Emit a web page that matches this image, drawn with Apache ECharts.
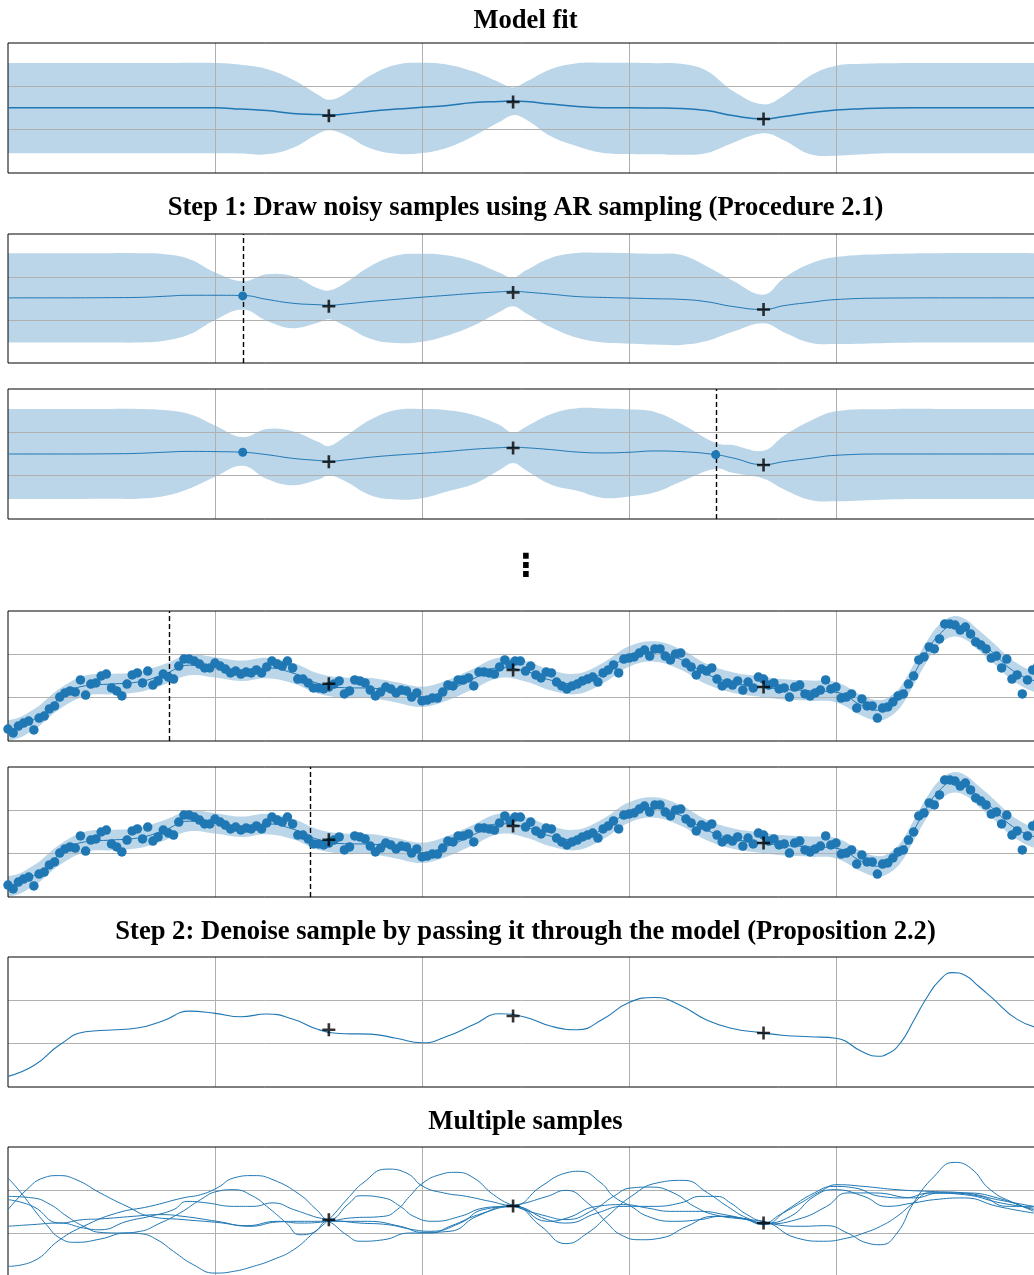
<!DOCTYPE html>
<html><head><meta charset="utf-8">
<script src="https://cdn.jsdelivr.net/npm/echarts/dist/echarts.min.js"></script>
<style>html,body{margin:0;padding:0;background:#fff}#c{width:1034px;height:1275px}</style>
</head><body><div id="c"></div>
<script>
// ---------- data ----------
const TITLES = ['Model fit', 'Step 1: Draw noisy samples using AR sampling (Procedure 2.1)', 'Step 2: Denoise sample by passing it through the model (Proposition 2.2)', 'Multiple samples'];
const ELLIPSIS = '\u22EE';
const OBS = [[3.10, -0.36], [4.88, 0.28], [7.30, -0.51]];

const P1_X = [0,0.5,1,1.5,2,2.25,2.5,2.75,3,3.1,3.25,3.5,3.75,4,4.25,4.5,4.75,4.88,5,5.25,5.5,5.75,6,6.25,6.5,6.75,7,7.3,7.5,7.75,8,8.25,8.5,9,10];
const P1_UP = [2.08,2.08,2.08,2.08,2.08,2.00,1.80,1.31,0.60,0.38,0.64,1.50,2.00,2.09,2.00,1.68,1.18,0.95,1.20,1.80,2.07,2.09,2.09,2.07,2.04,1.72,0.80,0.17,0.59,1.49,1.95,2.04,2.07,2.08,2.08];
const P1_LO = [-2.09,-2.09,-2.09,-2.09,-2.09,-2.10,-2.14,-1.85,-1.18,-1.03,-1.22,-1.86,-2.11,-2.08,-1.82,-1.29,-0.64,-0.33,-0.52,-1.32,-1.77,-2.08,-2.12,-2.14,-2.16,-2.08,-1.61,-1.17,-1.50,-2.14,-2.20,-2.14,-2.09,-2.09,-2.09];
const P1_MEAN = [0.01,0.01,0.01,0.01,0.01,-0.05,-0.12,-0.25,-0.30,-0.32,-0.28,-0.15,-0.05,0.03,0.12,0.25,0.30,0.32,0.30,0.18,0.07,0.01,0.01,0.00,-0.02,-0.12,-0.35,-0.51,-0.39,-0.22,-0.09,-0.03,0.00,0.01,0.01];

const P2_X = [0,0.5,1,1.25,1.5,1.75,2,2.268,2.5,2.75,3,3.1,3.25,3.5,3.75,4,4.25,4.5,4.75,4.88,5,5.25,5.5,5.75,6,6.25,6.5,6.75,7,7.3,7.5,7.75,8,8.5,9,10];
const P2_UP = [2.11,2.11,2.11,2.11,2.07,1.84,1.22,0.80,1.13,1.04,0.46,0.37,0.70,1.50,2.00,2.08,2.00,1.70,1.20,0.97,1.30,1.90,2.12,2.13,2.11,2.08,2.03,1.50,0.84,0.18,0.97,1.62,1.93,2.07,2.11,2.11];
const P2_LO = [-2.05,-2.05,-2.05,-2.05,-1.98,-1.68,-1.00,-0.51,-1.03,-1.38,-1.12,-0.97,-1.26,-1.87,-2.07,-2.01,-1.72,-1.26,-0.62,-0.36,-0.67,-1.35,-1.83,-2.05,-2.10,-2.14,-2.16,-1.98,-1.55,-1.15,-1.58,-2.06,-2.12,-2.07,-2.05,-2.05];
const P2_MEAN = [0.03,0.03,0.04,0.05,0.10,0.15,0.15,0.14,-0.04,-0.22,-0.29,-0.31,-0.26,-0.14,-0.04,0.06,0.15,0.24,0.31,0.34,0.30,0.20,0.09,0.05,0.02,-0.01,-0.04,-0.15,-0.37,-0.51,-0.33,-0.18,-0.05,0.02,0.03,0.03];
const P2_PTS = [[2.268, 0.12]];
const P2_CUT = 2.268;

const P3_X = [0,0.5,1,1.25,1.5,1.75,2,2.268,2.5,2.75,3,3.1,3.25,3.5,3.75,4,4.25,4.5,4.75,4.88,5,5.25,5.5,5.75,6,6.25,6.5,6.838,7,7.3,7.5,7.75,8,8.5,9,10];
const P3_UP = [2.08,2.08,2.08,2.08,2.03,1.85,1.32,0.78,1.15,1.05,0.55,0.36,0.78,1.58,2.03,2.08,2.02,1.80,1.34,0.97,1.25,1.85,2.11,2.10,2.06,1.94,1.41,0.51,0.41,0.15,0.85,1.52,1.97,2.07,2.08,2.08];
const P3_LO = [-2.08,-2.08,-2.07,-2.06,-1.95,-1.60,-1.05,-0.54,-1.15,-1.44,-1.18,-0.98,-1.24,-1.90,-2.10,-2.04,-1.72,-1.39,-0.74,-0.42,-0.74,-1.42,-1.70,-2.03,-1.96,-1.77,-1.28,-0.68,-0.87,-1.14,-1.64,-2.12,-2.18,-2.10,-2.08,-2.08];
const P3_MEAN = [0.00,0.00,0.01,0.03,0.08,0.12,0.11,0.08,-0.03,-0.20,-0.30,-0.34,-0.28,-0.15,-0.05,0.03,0.12,0.22,0.29,0.31,0.29,0.20,0.09,0.05,0.08,0.14,0.11,-0.03,-0.18,-0.49,-0.35,-0.20,-0.06,0.00,0.00,0.00];
const P3_PTS = [[2.268, 0.08], [6.838, -0.03]];
const P3_CUT = 6.838;

// noisy AR sample, x = i * NOISY_DX
const NOISY_DX = 0.05;
const NOISY_Y = [
 -2.45,-2.63,-2.31,-2.17,-2.08,-2.49,-1.94,-1.85,-1.52,-1.38,
 -0.97,-0.78,-0.69,-0.74,-0.18,-0.88,-0.37,-0.32,0.00,0.09,
 -0.55,-0.69,-0.92,-0.37,0.05,0.14,-0.32,0.23,-0.42,-0.23,
 0.09,-0.05,-0.14,0.46,0.78,0.78,0.69,0.55,0.37,0.37,
 0.60,0.46,0.32,0.14,0.23,0.09,0.18,0.14,0.28,0.14,
 0.42,0.69,0.55,0.46,0.69,0.37,-0.14,-0.14,-0.32,-0.55,
 -0.55,-0.60,-0.51,-0.37,-0.23,-0.83,-0.69,-0.18,-0.23,-0.32,
 -0.65,-0.92,-0.74,-0.51,-0.60,-0.78,-0.65,-0.69,-0.97,-0.78,
 -1.15,-1.11,-1.02,-1.02,-0.74,-0.42,-0.46,-0.18,-0.18,-0.09,
 -0.46,0.18,0.18,0.14,0.09,0.42,0.74,0.51,0.69,0.69,
 0.23,0.46,0.05,-0.09,0.18,0.14,-0.28,-0.46,-0.60,-0.46,
 -0.37,-0.23,-0.14,-0.05,-0.28,0.14,0.28,0.51,0.14,0.78,
 0.83,0.88,1.06,1.20,0.92,1.25,1.25,0.92,0.74,1.02,
 1.06,0.60,0.42,0.05,0.32,0.23,0.37,-0.14,-0.46,-0.32,
 -0.42,-0.23,-0.65,-0.28,-0.55,-0.05,-0.14,-0.42,-0.32,-0.60,
 -0.55,-0.97,-0.51,-0.42,-0.83,-0.92,-0.78,-0.65,-0.18,-0.60,
 -0.51,-1.02,-0.97,-0.83,-1.48,-1.06,-1.38,-1.38,-1.94,-1.48,
 -1.43,-1.20,-0.92,-0.83,-0.37,0.00,0.74,0.88,1.34,1.25,
 1.71,2.40,2.40,2.35,2.12,2.26,1.94,1.57,1.43,1.25,
 0.83,0.92,0.37,0.78,-0.14,0.05,-0.83,-0.18,0.28,0.46];
const CUT_A = 1.565;
const CUT_B = 2.918;
const NOISE_HALF = 0.47;

// denoised sample
const DEN_X = [0,0.25,0.5,0.75,1,1.25,1.5,1.75,2,2.25,2.5,2.75,3,3.25,3.5,3.75,4,4.25,4.5,4.75,5,5.25,5.5,5.75,6,6.25,6.5,6.75,7,7.25,7.5,7.75,8,8.25,8.4,8.5,8.625,8.75,8.875,9,9.125,9.25,9.375,9.5,9.75,10];
const DEN_Y = [-2.51,-2.01,-1.05,-0.45,-0.37,-0.28,0.06,0.50,0.40,0.24,0.37,0.14,-0.35,-0.54,-0.56,-0.75,-0.96,-0.65,-0.12,0.38,0.22,-0.20,-0.36,0.14,0.90,1.13,0.76,0.09,-0.30,-0.48,-0.62,-0.68,-0.75,-1.36,-1.58,-1.47,-0.95,0.06,1.11,1.92,2.28,2.15,1.66,1.15,0.12,-0.32];

// multiple samples
const SAMPLE_1 = [[0,1.57],[0.12,0.92],[0.24,0.18],[0.37,-0.58],[0.50,-1.20],[0.66,-1.40],[0.89,-1.25],[1.15,-0.97],[1.28,-1.00],[1.44,-1.28],[1.60,-1.82],[1.79,-2.43],[2.00,-2.82],[2.18,-2.74],[2.37,-2.51],[2.56,-2.20],[2.76,-1.74],[2.95,-0.97],[3.10,-0.35],
 [3.30,0.72],[3.43,1.34],[3.66,1.98],[3.85,1.80],[4.01,1.18],[4.21,0.88],[4.43,0.72],[4.66,0.49],[4.88,0.30],
 [5.15,1.18],[5.39,1.80],[5.52,1.88],[5.73,1.34],[5.85,0.72],[6.02,0.26],[6.18,-0.20],[6.43,-0.43],[6.69,-0.35],[6.89,-0.20],[7.14,-0.32],[7.30,-0.51],
 [7.46,-0.12],[7.66,0.42],[7.85,0.95],[8.01,1.26],[8.27,1.18],[8.59,1.03],[8.91,0.95],[9.24,0.88],[9.56,0.57],[9.91,0.26]];
const SAMPLE_2 = [[0,-2.51],[0.24,-2.28],[0.50,-1.28],[0.73,-0.66],[1.05,-0.05],[1.37,0.26],[1.69,0.65],[1.86,0.80],[2.02,1.11],[2.18,1.57],[2.37,1.68],[2.56,1.49],[2.82,0.80],[2.98,0.11],[3.10,-0.35],
 [3.30,0.42],[3.40,0.75],[3.63,0.65],[3.79,0.26],[3.92,-0.20],[4.11,-0.43],[4.37,-0.20],[4.59,0.18],[4.88,0.30],
 [5.21,0.72],[5.39,1.00],[5.60,0.42],[5.79,-0.51],[5.92,-1.05],[6.11,-1.28],[6.31,-1.20],[6.56,-0.66],[6.82,-0.20],[7.08,-0.28],[7.30,-0.58],
 [7.53,0.11],[7.79,0.88],[7.98,1.18],[8.18,1.11],[8.43,0.72],[8.66,0.65],[8.91,0.88],[9.24,0.80],[9.59,0.42],[9.91,0.18]];
const SAMPLE_3 = [[0,0.11],[0.18,1.03],[0.34,1.57],[0.49,1.68],[0.66,1.49],[0.89,0.88],[1.15,0.26],[1.37,-0.20],[1.69,-0.35],[2.02,-0.48],[2.31,-0.63],[2.60,-0.43],[2.82,-0.51],[3.10,-0.43],
 [3.30,-0.28],[3.63,-0.20],[3.76,0.11],[3.88,0.72],[4.01,1.34],[4.17,1.72],[4.33,1.83],[4.50,1.57],[4.69,0.80],[4.88,0.30],
 [5.21,-0.20],[5.39,-0.35],[5.66,0.11],[5.85,0.72],[6.02,1.11],[6.21,1.15],[6.43,0.88],[6.63,0.26],[6.82,-0.12],[7.14,-0.35],[7.30,-0.43],
 [7.62,-1.20],[7.88,-1.35],[8.11,-1.20],[8.27,-0.97],[8.43,-0.66],[8.59,-0.20],[8.75,0.42],[8.91,0.88],[9.24,0.88],[9.56,0.65],[9.91,0.03]];
const SAMPLE_4 = [[0,0.72],[0.24,0.65],[0.41,0.34],[0.57,-0.20],[0.73,-0.66],[0.89,-0.94],[1.08,-0.97],[1.28,-0.89],[1.44,-0.58],[1.66,-0.05],[1.86,0.57],[2.02,0.95],[2.18,1.03],[2.37,0.72],[2.50,0.26],[2.69,-0.51],[2.82,-1.05],[2.95,-0.95],[3.10,-0.40],
 [3.40,-0.51],[3.66,-0.58],[3.92,-0.82],[4.08,-0.89],[4.37,-0.51],[4.59,0.11],[4.88,0.25],
 [5.21,-0.35],[5.40,-0.51],[5.69,-0.05],[5.95,0.26],[6.24,0.26],[6.50,0.42],[6.69,0.72],[6.85,0.72],[6.98,0.42],[7.14,-0.12],[7.30,-0.45],
 [7.66,-0.66],[7.91,-0.63],[8.11,-0.97],[8.30,-1.43],[8.43,-1.51],[8.59,-0.97],[8.75,0.42],[8.95,1.65],[9.14,2.29],[9.30,2.03],[9.49,1.03],[9.72,0.42],[9.91,0.11]];
const SAMPLE_5 = [[0,-0.66],[0.24,-0.58],[0.50,-0.51],[0.73,-0.74],[0.89,-0.82],[1.15,-0.43],[1.37,-0.20],[1.60,0.11],[1.73,0.49],[1.92,0.42],[2.18,0.26],[2.37,0.26],[2.56,0.42],[2.76,0.11],[2.95,-0.20],[3.10,-0.43],
 [3.27,-1.05],[3.40,-1.35],[3.63,-1.28],[3.88,-0.97],[4.08,-0.97],[4.27,-0.66],[4.59,-0.05],[4.88,0.25],
 [5.15,-0.66],[5.39,-1.46],[5.60,-0.97],[5.79,-0.20],[6.02,0.72],[6.27,1.34],[6.53,1.46],[6.76,0.88],[6.95,0.26],[7.14,-0.28],[7.30,-0.51],
 [7.56,-0.20],[7.79,0.72],[7.98,1.03],[8.27,0.72],[8.49,0.26],[8.75,0.42],[8.95,0.57],[9.24,0.65],[9.56,0.26],[9.91,-0.05]];
const SAMPLE_6 = [[0,0.57],[0.24,0.26],[0.50,-0.51],[0.73,-0.35],[0.89,-0.32],[1.21,-0.20],[1.47,-0.12],[1.69,-0.20],[2.02,-0.43],[2.34,-0.66],[2.60,-0.46],[2.82,-0.43],[3.10,-0.43],
 [3.47,-0.43],[3.79,-0.66],[4.01,-0.94],[4.27,-0.89],[4.53,-0.20],[4.88,0.30],
 [5.21,-0.43],[5.40,-0.28],[5.69,0.26],[5.95,0.34],[6.18,0.18],[6.40,0.03],[6.69,0.03],[6.92,-0.12],[7.14,-0.35],[7.30,-0.55],
 [7.62,-0.35],[7.91,0.26],[8.11,0.88],[8.37,0.88],[8.75,0.65],[9.01,0.88],[9.40,0.72],[9.65,0.26],[9.91,0.26]];
const SAMPLES = [SAMPLE_1, SAMPLE_2, SAMPLE_3, SAMPLE_4, SAMPLE_5, SAMPLE_6];

// ---------- layout / style ----------
const BLUE = '#1f77b4';
const GRID_TOPS = [43, 234, 389, 611, 767, 957, 1147];
const GRID_H = [130, 129, 130, 130, 130, 130, 130];
const PLUS = 'path://M4,0H6V4H10V6H6V10H4V6H0V4H4Z';
const SMOOTH = 0.5;

const zip = (xs, ys) => xs.map((x, i) => [x, ys[i]]);

// shaded band between lower and upper curves, drawn through the axis scales
function band(gi, xs, lo, up) {
  const n = xs.length;
  return {type:'custom', xAxisIndex:gi, yAxisIndex:gi, silent:true, z:1, clip:true,
    data:[[xs[0], lo[0], up[0]]], encode:{x:0, y:[1, 2]},
    renderItem: function (params, api) {
      const cs = params.coordSys;
      const pad = 1; // extend past both ends so the closing corners fall outside the plot
      const topPts = [api.coord([xs[0] - pad, up[0]])]
        .concat(xs.map((x, i) => api.coord([x, up[i]])))
        .concat([api.coord([xs[n - 1] + pad, up[n - 1]])]);
      const botPts = [api.coord([xs[0] - pad, lo[0]])]
        .concat(xs.map((x, i) => api.coord([x, lo[i]])))
        .concat([api.coord([xs[n - 1] + pad, lo[n - 1]])]).reverse();
      return {type:'group',
        clipPath:{type:'rect', shape:{x:cs.x, y:cs.y, width:cs.width, height:cs.height}},
        children:[{type:'polygon', shape:{points: topPts.concat(botPts), smooth:0.4},
          style:{fill:BLUE, opacity:0.3, stroke:null}}]};
    }};
}
function line(gi, data, width, z) {
  return {type:'line', xAxisIndex:gi, yAxisIndex:gi, data, smooth:SMOOTH,
    symbol:'none', showSymbol:false, silent:true, z:z || 4, lineStyle:{color:BLUE, width}};
}
function plus(gi) {
  return {type:'scatter', xAxisIndex:gi, yAxisIndex:gi, data:OBS, symbol:PLUS, symbolSize:13,
    itemStyle:{color:'#000'}, silent:true, z:10};
}
function dots(gi, data, size, cut) {
  const s = {type:'scatter', xAxisIndex:gi, yAxisIndex:gi, data, symbolSize:size,
    itemStyle:{color:BLUE, opacity:1}, silent:true, z:5};
  if (cut !== undefined) {
    s.markLine = {symbol:'none', silent:true, animation:false, label:{show:false},
      lineStyle:{color:'#000', type:[5, 3], width:1.4, opacity:1}, data:[{xAxis:cut}]};
  }
  return s;
}

const grids = GRID_TOPS.map((t, i) => ({left:8, top:t, width:1035, height:GRID_H[i], show:true, z:3,
  borderColor:'#000', borderWidth:1, backgroundColor:'rgba(0,0,0,0)', containLabel:false, outerBoundsMode:'none'}));
const splitStyle = {show:true, showMinLine:false, showMaxLine:false, lineStyle:{color:'#b0b0b0', width:1}};
const xAxes = GRID_TOPS.map((t, i) => ({type:'value', gridIndex:i, min:0, max:10, interval:2, z:2,
  axisLine:{show:false}, axisTick:{show:false}, axisLabel:{show:false}, splitLine:splitStyle}));
const yAxes = GRID_TOPS.map((t, i) => ({type:'value', gridIndex:i, min:-3, max:3, interval:2, z:2,
  axisLine:{show:false}, axisTick:{show:false}, axisLabel:{show:false}, splitLine:splitStyle}));

const noisy = NOISY_Y.map((y, i) => [i * NOISY_DX, y]);
const denLo = DEN_Y.map(v => v - NOISE_HALF);
const denUp = DEN_Y.map(v => v + NOISE_HALF);

let series = [];
series.push(band(0, P1_X, P1_LO, P1_UP), line(0, zip(P1_X, P1_MEAN), 1.5), plus(0));
series.push(band(1, P2_X, P2_LO, P2_UP), line(1, zip(P2_X, P2_MEAN), 1), dots(1, P2_PTS, 9, P2_CUT), plus(1));
series.push(band(2, P3_X, P3_LO, P3_UP), line(2, zip(P3_X, P3_MEAN), 1), dots(2, P3_PTS, 9, P3_CUT), plus(2));
series.push(band(3, DEN_X, denLo, denUp), line(3, zip(DEN_X, DEN_Y), 1), dots(3, noisy, 9.5, CUT_A), plus(3));
series.push(band(4, DEN_X, denLo, denUp), line(4, zip(DEN_X, DEN_Y), 1), dots(4, noisy, 9.5, CUT_B), plus(4));
series.push(line(5, zip(DEN_X, DEN_Y), 1.1), plus(5));
SAMPLES.forEach(s => series.push(line(6, s, 1)));
series.push(plus(6));

const TITLE_Y = [21.5, 208, 932, 1122];
const titleFont = 'bold 26.6px "Liberation Serif", "Times New Roman", serif';
const graphic = TITLES.map((t, i) => ({type:'text', x:525.5, y:TITLE_Y[i], silent:true,
  style:{text:t, font:titleFont, fill:'#000', align:'center', verticalAlign:'middle'}}));
graphic.push({type:'text', x:526, y:564, silent:true,
  style:{text:ELLIPSIS, font:'bold 32px "Noto Sans CJK JP", "DejaVu Sans"', fill:'#000', align:'center', verticalAlign:'middle'}});

const chart = echarts.init(document.getElementById('c'), null, {renderer:'canvas'});
chart.setOption({animation:false, backgroundColor:'#fff', grid:grids, xAxis:xAxes, yAxis:yAxes, series, graphic});
</script></body></html>
